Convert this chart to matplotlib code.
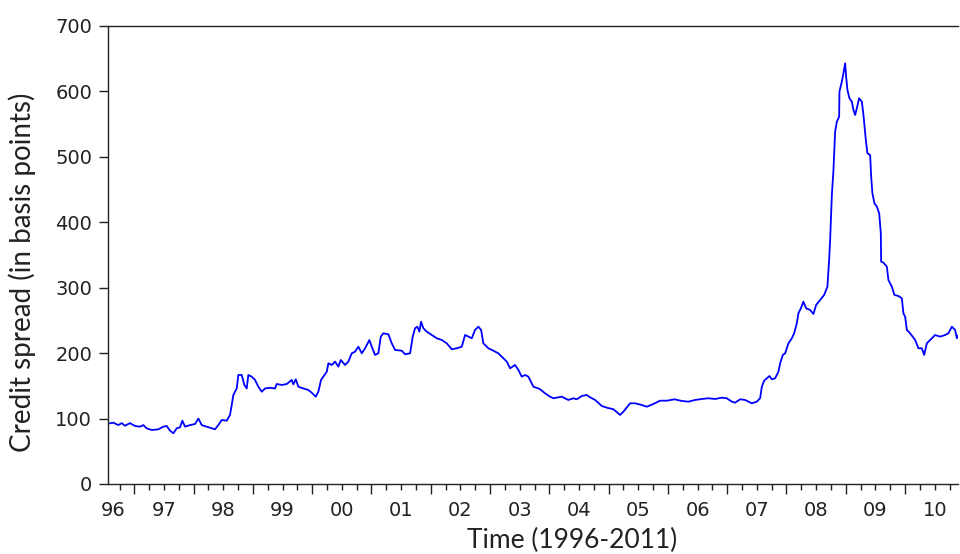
import matplotlib
matplotlib.use("Agg")
import matplotlib.pyplot as plt
from matplotlib.ticker import MultipleLocator, FixedLocator, NullFormatter
from matplotlib.transforms import offset_copy

# time in decimal years, credit spread in basis points
time = [
    1996.590, 1996.646, 1996.730, 1996.787, 1996.843, 1996.927, 1997.012, 1997.096,
    1997.152, 1997.209, 1997.294, 1997.405, 1997.489, 1997.547, 1997.602, 1997.658,
    1997.715, 1997.771, 1997.810, 1997.855, 1997.940, 1998.024, 1998.080, 1998.137,
    1998.221, 1998.306, 1998.361, 1998.417, 1998.474, 1998.559, 1998.614, 1998.643,
    1998.670, 1998.727, 1998.754, 1998.812, 1998.856, 1998.896, 1998.923, 1998.980,
    1999.036, 1999.092, 1999.149, 1999.205, 1999.289, 1999.373, 1999.402, 1999.487,
    1999.571, 1999.655, 1999.682, 1999.723, 1999.767, 1999.851, 1999.935, 2000.003,
    2000.060, 2000.104, 2000.149,
    2000.188, 2000.246, 2000.273, 2000.330, 2000.386, 2000.441, 2000.482, 2000.554,
    2000.610, 2000.667, 2000.723, 2000.779, 2000.836, 2000.892, 2000.964, 2001.005,
    2001.060, 2001.116, 2001.157, 2001.200, 2001.285, 2001.342, 2001.398, 2001.511,
    2001.567, 2001.651, 2001.696, 2001.735, 2001.774, 2001.808, 2001.836, 2001.875,
    2001.933, 2002.017, 2002.101, 2002.186, 2002.270, 2002.354, 2002.439, 2002.523,
    2002.579, 2002.634, 2002.692, 2002.747, 2002.803, 2002.849, 2002.887, 2002.972,
    2003.056, 2003.140, 2003.225, 2003.282, 2003.338, 2003.422, 2003.478, 2003.535,
    2003.591, 2003.646, 2003.731, 2003.815,
    2003.844, 2003.928, 2004.012, 2004.068, 2004.210, 2004.321, 2004.406, 2004.463,
    2004.547, 2004.632, 2004.687, 2004.772, 2004.885, 2004.969, 2005.080, 2005.193,
    2005.249, 2005.362, 2005.446, 2005.559, 2005.644, 2005.755, 2005.868, 2005.981,
    2006.109, 2006.234, 2006.345, 2006.459, 2006.572, 2006.683, 2006.796, 2006.909,
    2006.993, 2007.078, 2007.133, 2007.218, 2007.302, 2007.358, 2007.415, 2007.499,
    2007.555, 2007.584, 2007.623, 2007.668, 2007.712, 2007.753, 2007.808, 2007.864,
    2007.893, 2007.938, 2007.977, 2008.033, 2008.090, 2008.129, 2008.174, 2008.201,
    2008.242, 2008.285, 2008.331, 2008.398, 2008.454, 2008.500, 2008.567, 2008.635,
    2008.690, 2008.719, 2008.736, 2008.765, 2008.792, 2008.820, 2008.849, 2008.888,
    2008.893, 2008.933, 2008.960, 2008.989, 2009.006, 2009.028, 2009.062, 2009.102,
    2009.129, 2009.158, 2009.186, 2009.225, 2009.271, 2009.298, 2009.338, 2009.365,
    2009.411, 2009.428, 2009.449, 2009.483, 2009.524, 2009.563, 2009.591, 2009.596,
    2009.635, 2009.692, 2009.719, 2009.777, 2009.820, 2009.888, 2009.945, 2009.972,
    2010.001, 2010.030, 2010.085, 2010.170, 2010.225, 2010.283, 2010.322, 2010.367,
    2010.423, 2010.507, 2010.592, 2010.676, 2010.731, 2010.789, 2010.844, 2010.873,
    2010.895,
]
spread = [
    92.8, 93.7, 90.0, 93.0, 89.0, 93.0, 88.6, 87.6,
    90.0, 85.0, 82.5, 83.5, 87.6, 88.6, 81.5, 77.5,
    85.0, 86.6, 96.8, 87.6, 90.0, 91.7, 100.0, 90.0,
    87.6, 85.0, 83.5, 90.0, 97.8, 96.8, 105.5, 120.7,
    136.0, 146.0, 166.6, 166.6, 151.3, 146.0, 166.6, 164.0,
    159.0, 148.7, 141.0, 146.0, 147.0, 146.0, 152.8, 151.3,
    152.8, 159.0, 152.3, 160.0, 148.7, 146.0, 143.7, 138.6,
    133.4, 141.0, 159.0,
    164.0, 171.6, 184.5, 181.9, 187.0, 179.3, 189.5, 181.9,
    187.0, 199.7, 202.2, 209.8, 199.7, 207.4, 220.0, 209.8,
    197.2, 199.7, 225.2, 230.3, 228.8, 215.0, 204.8, 203.7,
    198.2, 199.7, 225.2, 238.0, 240.4, 232.8, 248.0, 238.0,
    232.8, 227.7, 222.7, 220.0, 215.0, 205.9, 207.4, 209.8,
    227.7, 225.2, 222.7, 235.4, 240.4, 235.4, 215.0, 207.4,
    203.7, 199.7, 192.1, 187.0, 176.8, 181.9, 174.2, 164.0,
    166.6, 164.0, 148.7, 146.0,
    144.7, 138.6, 133.4, 131.0, 133.4, 128.4, 131.0, 129.4,
    134.5, 136.0, 132.5, 128.4, 119.2, 116.6, 114.2, 105.5,
    110.5, 123.3, 123.3, 120.7, 118.1, 122.3, 127.3, 127.3,
    129.4, 126.9, 125.8, 128.4, 129.9, 131.0, 129.9, 131.9,
    131.0, 125.8, 124.3, 129.4, 128.4, 125.8, 123.3, 125.8,
    131.0, 148.7, 157.9, 161.5, 165.0, 160.0, 161.5, 171.6,
    184.5, 197.2, 199.7, 215.0, 222.7, 230.3, 245.6, 260.9,
    268.5, 278.6, 268.5, 266.0, 259.8, 273.6, 281.2, 288.9,
    301.5, 342.4, 372.9, 441.7, 479.9, 538.5, 553.7, 561.4,
    599.6, 614.9, 627.7, 643.0, 622.5, 602.2, 589.5, 584.3,
    571.6, 564.0, 574.2, 589.5, 584.3, 564.0, 525.8, 505.4,
    502.8, 469.7, 444.3, 429.0, 423.9, 413.7, 383.2, 339.8,
    338.3, 332.2, 311.8, 301.5, 288.9, 287.3, 283.8, 260.9,
    255.7, 235.4, 230.3, 220.0, 207.4, 207.4, 197.2, 215.0,
    220.0, 227.7, 225.2, 227.7, 230.3, 240.4, 235.4, 222.7,
    227.0,
]

year_labels = ['96', '97', '98', '99', '00', '01', '02', '03',
               '04', '05', '06', '07', '08', '09', '10']
year_label_pos = [1996.64, 1997.5, 1998.5, 1999.5, 2000.5, 2001.5, 2002.5, 2003.5,
                  2004.5, 2005.5, 2006.5, 2007.5, 2008.5, 2009.5, 2010.5]
year_bounds = list(range(1997, 2011))

fig = plt.figure(figsize=(9.6, 5.54), dpi=100)
ax = fig.add_axes([0.1125, 0.1264, 0.8855, 0.8267])

ax.plot(time, spread, color='#0000ff', lw=1.3)

ax.set_xlim(1996.556, 2010.894)
ax.set_ylim(0, 700)

ax.spines['right'].set_visible(False)
for s in ['left', 'bottom', 'top']:
    ax.spines[s].set_color('#222222')
    ax.spines[s].set_linewidth(1.0)

# y axis
ax.yaxis.set_major_locator(MultipleLocator(100))
ax.tick_params(axis='y', direction='out', length=6.5, width=1.0, pad=5,
               labelsize=14, color='#222222', labelcolor='#222222')
for lab in ax.get_yticklabels():
    lab.set_fontfamily('DejaVu Sans')

# x axis: long ticks at year boundaries, short ticks at quarters
ax.xaxis.set_major_locator(FixedLocator(year_bounds))
ax.xaxis.set_major_formatter(NullFormatter())
ax.xaxis.set_minor_locator(MultipleLocator(0.25))
ax.tick_params(axis='x', which='major', direction='out', length=7.5, width=1.0, color='#222222')
ax.tick_params(axis='x', which='minor', direction='out', length=4, width=1.0, color='#222222')

trans = offset_copy(ax.get_xaxis_transform(), fig=fig, x=0, y=-17, units='dots')
for pos, lab in zip(year_label_pos, year_labels):
    ax.text(pos, 0, lab, transform=trans, ha='center', va='top',
            fontsize=14, family='DejaVu Sans', color='#222222')

ax.set_xlabel('Time (1996-2011)', family='Lato', fontsize=19, color='#222222')
ax.xaxis.set_label_coords(0.546, -0.095)
ax.set_ylabel('Credit spread (in basis points)', family='Lato', fontsize=20,
              color='#222222')
ax.yaxis.set_label_coords(-0.085, 0.463)

fig.savefig('out.png', dpi=100)
